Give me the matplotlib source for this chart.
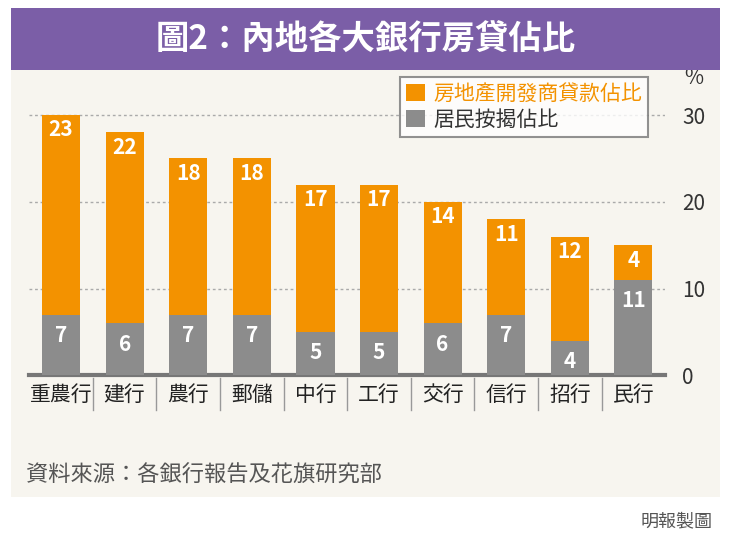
import matplotlib.pyplot as plt
import numpy as np

plt.rcParams['font.family'] = ['Noto Sans CJK JP', 'Noto Sans CJK TC', 'DejaVu Sans']

banks = ['重農行', '建行', '農行', '郵儲', '中行', '工行', '交行', '信行', '招行', '民行']
mortgage = [7, 6, 7, 7, 5, 5, 6, 7, 4, 11]
developer = [23, 22, 18, 18, 17, 17, 14, 11, 12, 4]

orange = '#f39200'
grey = '#8c8c8c'

fig = plt.figure(figsize=(7.31, 5.40), dpi=100)
fig.patch.set_facecolor('white')

# background panel
fig.add_artist(plt.Rectangle((0.015, 0.08), 0.97, 0.855, transform=fig.transFigure,
                             facecolor='#f7f5ef', edgecolor='none', zorder=0))
# title band
fig.add_artist(plt.Rectangle((0.015, 0.87), 0.97, 0.115, transform=fig.transFigure,
                             facecolor='#7b5ea7', edgecolor='none'))
fig.text(0.5, 0.925, '圖2：內地各大銀行房貸佔比', ha='center', va='center',
         color='white', fontsize=24, fontweight='bold')

ax = fig.add_axes([0.04, 0.305, 0.87, 0.53])
ax.set_facecolor('none')
x = np.arange(len(banks))
ax.bar(x, mortgage, width=0.6, color=grey, label='居民按揭佔比', zorder=3)
ax.bar(x, developer, width=0.6, bottom=mortgage, color=orange,
       label='房地產開發商貸款佔比', zorder=3)

for i in range(len(banks)):
    ax.text(x[i], mortgage[i] - 1.2, str(mortgage[i]), ha='center', va='top',
            color='white', fontsize=15, fontweight='bold', zorder=4)
    ax.text(x[i], mortgage[i] + developer[i] - 0.5, str(developer[i]), ha='center',
            va='top', color='white', fontsize=15, fontweight='bold', zorder=4)

ax.set_xlim(-0.5, len(banks) - 0.5)
ax.set_ylim(0, 33)
ax.set_yticks([0, 10, 20, 30])
ax.yaxis.tick_right()
ax.tick_params(axis='y', length=0, labelsize=15, labelcolor='#333333', pad=12)
ax.grid(axis='y', linestyle=(0, (2, 2)), color='#aaaaaa', linewidth=1, zorder=1)
ax.set_xticks(x)
ax.set_xticklabels(banks, fontsize=15, color='#222222')
ax.tick_params(axis='x', length=0, pad=6)
for s in ['top', 'left', 'right']:
    ax.spines[s].set_visible(False)
ax.spines['bottom'].set_color('#777777')
ax.spines['bottom'].set_linewidth(3)
for i in range(1, len(banks)):
    ax.axvline(i - 0.5, ymin=-0.12, ymax=-0.01, color='#999999', lw=1, clip_on=False)
ax.text(1.045, 1.0, '%', transform=ax.transAxes, ha='center', va='bottom',
        fontsize=15, color='#333333')

h, l = ax.get_legend_handles_labels()
leg = ax.legend(h[::-1], l[::-1], loc='upper right', bbox_to_anchor=(0.99, 1.08),
                fontsize=15, frameon=True, fancybox=False, edgecolor='#777777',
                handlelength=0.9, handleheight=0.9, borderpad=0.3, labelspacing=0.2,
                handletextpad=0.4)
leg.get_frame().set_linewidth(1.5)
leg.get_texts()[0].set_color(orange)
leg.get_texts()[1].set_color('#333333')

fig.text(0.035, 0.12, '資料來源：各銀行報告及花旗研究部', fontsize=16, color='#555555',
         va='center')
fig.text(0.975, 0.035, '明報製圖', fontsize=13, color='#555555', ha='right', va='center')

fig.savefig('out.png', dpi=100)
